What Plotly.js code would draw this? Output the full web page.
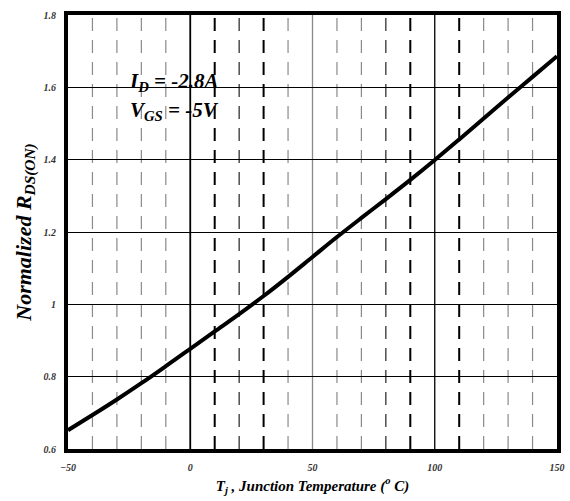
<!DOCTYPE html>
<html>
<head>
<meta charset="utf-8">
<script src="https://cdn.plot.ly/plotly-3.0.1.min.js"></script>
<style>
  html, body { margin: 0; padding: 0; background: #fff; }
  #graph { width: 570px; height: 501px; }
</style>
</head>
<body>
<div id="graph"></div>
<script>
// Junction temperature (deg C) and normalized RDS(ON)
const temps = [-50, -40, -30, -20, -10, 0, 10, 20, 30, 40, 50, 60, 70, 80, 90, 100, 110, 120, 130, 140, 150];
const rdsOn = [0.652, 0.694, 0.737, 0.782, 0.829, 0.877, 0.925, 0.973, 1.023, 1.076, 1.131,
               1.186, 1.239, 1.291, 1.344, 1.399, 1.456, 1.514, 1.572, 1.629, 1.686];

// vertical grid positions
const xTicks = [-50, 0, 50, 100, 150];
const solidGrid = [0, 50, 100];
const dashedGrid = [-40, -30, -20, -10, 10, 20, 30, 40, 60, 70, 80, 90, 110, 120, 130, 140];
const boldDashed = [10, 30, 90, 110];
const darkDashed = [20, 80];

const serif = "Liberation Serif, Times New Roman, serif";

// gridline shapes
let shapes = [];
dashedGrid.forEach(function (t) {
    let color = "#8a8a8a", width = 1.2;
    if (boldDashed.includes(t)) { color = "#000"; width = 2; }
    else if (darkDashed.includes(t)) { color = "#222"; width = 1.2; }
    shapes.push({
        type: "line", xref: "x", yref: "paper", x0: t, x1: t, y0: 0, y1: 1,
        layer: "below",
        line: { color: color, width: width, dash: "13px,9px" }
    });
});
solidGrid.forEach(function (t) {
    shapes.push({
        type: "line", xref: "x", yref: "paper", x0: t, x1: t, y0: 0, y1: 1,
        layer: "below",
        line: { color: t === 50 ? "#8a8a8a" : "#000", width: t === 0 ? 1.8 : 1.3 }
    });
});

let curve = {
    x: temps,
    y: rdsOn,
    mode: "lines",
    line: { color: "#000", width: 4, shape: "spline", smoothing: 1 },
    hoverinfo: "skip",
    showlegend: false
};

let tickFont = { family: serif, size: 10, color: "#333", style: "italic", weight: "bold" };

let layout = {
    width: 570,
    height: 501,
    margin: { l: 68, r: 13, t: 15, b: 52 },
    paper_bgcolor: "#fff",
    plot_bgcolor: "#fff",
    showlegend: false,
    xaxis: {
        range: [-50, 150],
        tickvals: xTicks,
        showgrid: false,
        zeroline: false,
        showline: true,
        mirror: true,
        linecolor: "#000",
        linewidth: 4,
        ticks: "",
        ticklabelstandoff: 6,
        tickfont: tickFont,
        title: {
            text: "T<sub>j</sub> , Junction Temperature (<sup>o</sup> C)",
            font: { family: serif, size: 15, color: "#000", style: "italic", weight: "bold" },
            standoff: 9
        }
    },
    yaxis: {
        range: [0.6, 1.8],
        dtick: 0.2,
        tick0: 0.6,
        showgrid: true,
        gridcolor: "#000",
        gridwidth: 1,
        zeroline: false,
        showline: true,
        mirror: true,
        linecolor: "#000",
        linewidth: 4,
        ticks: "",
        ticklabelstandoff: 6,
        tickfont: tickFont,
        title: {
            text: "Normalized R<sub>DS(ON)</sub>",
            font: { family: serif, size: 22, color: "#000", style: "italic", weight: "bold" },
            standoff: 7
        }
    },
    shapes: shapes,
    annotations: [
        {
            xref: "x", yref: "y", x: -26, y: 1.615, xanchor: "left", yanchor: "middle",
            showarrow: false,
            text: "I<sub>D</sub> = -2.8A",
            font: { family: serif, size: 21, color: "#000", style: "italic", weight: "bold" }
        },
        {
            xref: "x", yref: "y", x: -25.5, y: 1.535, xanchor: "left", yanchor: "middle",
            showarrow: false,
            text: "V<sub>GS</sub> = -5V",
            font: { family: serif, size: 21, color: "#000", style: "italic", weight: "bold" }
        }
    ]
};

Plotly.newPlot("graph", [curve], layout, { displayModeBar: false, staticPlot: true });
</script>
</body>
</html>
